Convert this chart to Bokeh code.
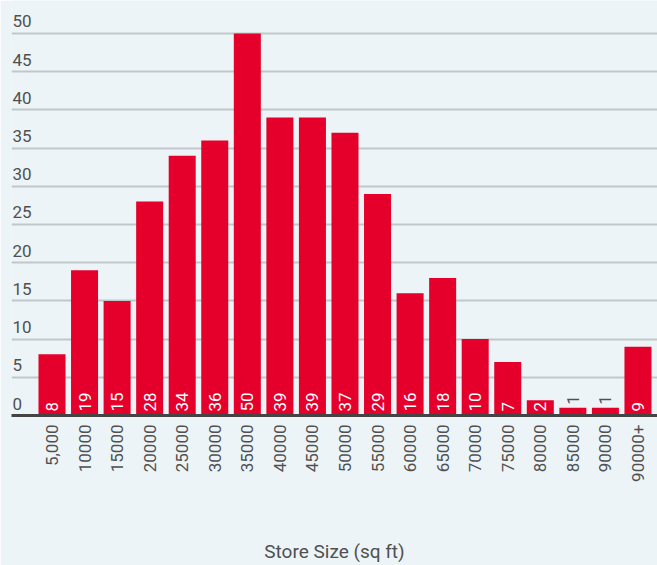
import math
from bokeh.plotting import figure
from bokeh.models import ColumnDataSource, Range1d, FixedTicker
from bokeh.core.properties import value
from bokeh.embed import file_html
from bokeh.resources import INLINE

# ---- data ----
categories = ["5,000", "10000", "15000", "20000", "25000", "30000", "35000",
              "40000", "45000", "50000", "55000", "60000", "65000", "70000",
              "75000", "80000", "85000", "90000", "90000+"]
counts = [8, 19, 15, 28, 34, 36, 50, 39, 39, 37, 29, 16, 18, 10, 7, 2, 1, 1, 9]
y_ticks = [0, 5, 10, 15, 20, 25, 30, 35, 40, 45, 50]
y_tick_labels = [str(t) for t in y_ticks]
axis_title = "Store Size (sq ft)"

# ---- style ----
BG = "#ECF4F7"
BAR = "#E4002B"
TXT = "#505050"
FONT = "Roboto"
LABEL_PX = 17

positions = list(range(len(categories)))
src = ColumnDataSource(dict(x=positions, top=counts))

X_START, X_END = -1.244, 18.60
Y_END = 54.31
FRAME_H = 415.5
px_per_unit = FRAME_H / Y_END

# labels that fit inside the bar are white at its base; others sit above in grey
in_x, in_t, out_x, out_y, out_t = [], [], [], [], []
for xi, c in zip(positions, counts):
    s = str(c)
    need = 4 + len(s) * LABEL_PX * 0.57 + 1
    if c * px_per_unit >= need:
        in_x.append(xi); in_t.append(s)
    else:
        out_x.append(xi); out_y.append(c); out_t.append(s)

p = figure(width=657, height=565,
           x_range=Range1d(X_START, X_END), y_range=Range1d(0, Y_END),
           output_backend="svg", toolbar_location=None,
           min_border_left=11, min_border_right=0,
           min_border_top=0, min_border_bottom=0)

p.background_fill_color = BG
p.border_fill_color = BG
p.outline_line_color = None

p.vbar(x="x", top="top", bottom=0, width=0.83, source=src,
       fill_color=BAR, line_color=None)

# value labels inside bars
p.text(x=in_x, y=[0] * len(in_x), text=in_t, angle=math.pi / 2,
       text_align="left", text_baseline="middle", y_offset=-4,
       text_color="white", text_font=value(FONT), text_font_size=f"{LABEL_PX}px")
# value labels above too-short bars
p.text(x=out_x, y=out_y, text=out_t, angle=math.pi / 2,
       text_align="left", text_baseline="middle", y_offset=-3,
       text_color=TXT, text_font=value(FONT), text_font_size=f"{LABEL_PX}px")

# y tick labels sitting above their gridlines
p.text(x=X_START, y=y_ticks, text=y_tick_labels, x_offset=1, y_offset=-12,
       text_align="left", text_baseline="alphabetic",
       text_color=TXT, text_font=value(FONT), text_font_size="17px")

p.yaxis.visible = False
p.xgrid.grid_line_color = None
p.ygrid.ticker = FixedTicker(ticks=y_ticks)
p.ygrid.grid_line_color = "#C0C7CA"
p.ygrid.grid_line_width = 2

xa = p.xaxis[0]
xa.ticker = FixedTicker(ticks=positions)
xa.major_label_overrides = {i: c for i, c in enumerate(categories)}
xa.major_label_orientation = math.pi / 2
xa.major_tick_line_color = None
xa.minor_tick_line_color = None
xa.major_tick_out = 0
xa.major_tick_in = 0
xa.axis_line_color = "#444444"
xa.axis_line_width = 3
xa.major_label_standoff = 9
xa.major_label_text_font = FONT
xa.major_label_text_font_size = "17px"
xa.major_label_text_color = TXT
xa.axis_label = axis_title
xa.axis_label_standoff = 55
xa.axis_label_text_font = FONT
xa.axis_label_text_font_size = "19px"
xa.axis_label_text_font_style = "normal"
xa.axis_label_text_color = TXT

open("out.html", "w").write(file_html(p, INLINE))
